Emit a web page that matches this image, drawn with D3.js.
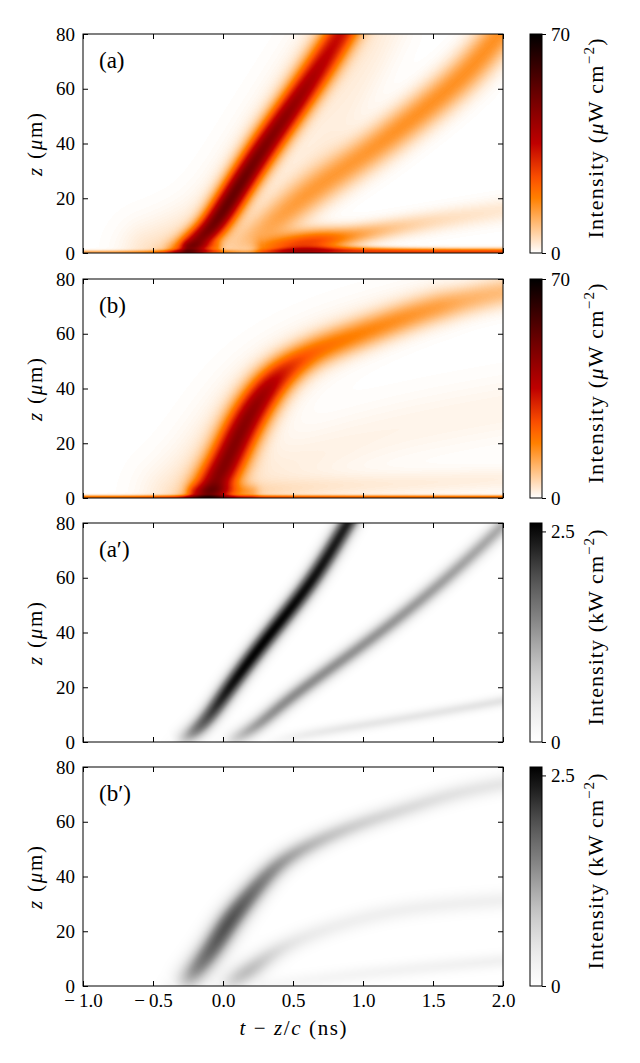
<!DOCTYPE html>
<meta charset="utf-8">
<style>
  body { margin: 0; background: #fff; }
  .tick line { stroke: #000; stroke-width: 1; }
</style>
<svg width="640" height="1063" font-family="Liberation Serif"></svg>
<script src="https://cdn.jsdelivr.net/npm/d3@7"></script>
<script>

var tTicks = [-1, -0.5, 0, 0.5, 1, 1.5, 2];
var zTicks = [0, 20, 40, 60, 80];
var panelNames = ["(a)", "(b)", "(a\u2032)", "(b\u2032)"];
var panelMax = [70, 70, 2.6, 2.6];
var barTicks = [[0, 70], [0, 70], [0, 2.5], [0, 2.5]];
var barUnits = ["\u03bcW", "\u03bcW", "kW", "kW"];

// bright tracks, rows of [t (ns), z (um), intensity, spread (ns)]
// panel (a), uW cm^-2
var aMain = [[-0.40, -2, 8, 0.06], [-0.30, 0.5, 22, 0.06], [-0.22, 3, 40, 0.06], [-0.10, 8, 45, 0.065],
  [0.00, 15, 48, 0.07], [0.12, 25, 48, 0.07], [0.31, 40, 43, 0.075], [0.52, 55, 40, 0.075],
  [0.72, 70, 33, 0.08], [0.84, 80, 30, 0.08], [0.90, 85, 30, 0.08]];
var aHalo = [[-0.5, 0, 4, 0.15], [-0.25, 5, 4, 0.15], [0.0, 15, 3, 0.15], [0.3, 40, 3, 0.15], [0.8, 80, 3, 0.15]];
var aSecond = [[-0.05, -2, 3, 0.08], [0.1, 2, 6, 0.08], [0.28, 8, 9, 0.085], [0.45, 15, 11, 0.09],
  [0.7, 25, 13, 0.09], [1.03, 36.5, 14, 0.09], [1.25, 45, 15, 0.09], [1.5, 55, 15, 0.09],
  [1.75, 66, 15, 0.09], [1.96, 79, 15, 0.09], [2.02, 83, 15, 0.09]];
var aFan = [[0.3, 5, 2, 0.1], [0.55, 25, 2, 0.12], [0.85, 50, 2, 0.12], [1.15, 82, 2, 0.12]];
var aThird = [[0.3, 1.5, 12, 0.05], [0.5, 3, 26, 0.06], [0.7, 4.5, 26, 0.06], [0.9, 6, 14, 0.05],
  [1.2, 9, 7, 0.05], [1.6, 12.5, 4, 0.055], [2.05, 16, 3, 0.06]];
var aBlob = [[-0.25, 2, 10, 0.03], [-0.05, 2, 8, 0.03]];
var aBottom = [[-1.05, 0.3, 12, 0.01], [-0.45, 0.3, 10, 0.01], [-0.3, 0.5, 18, 0.012], [-0.05, 0.5, 14, 0.012],
  [0.15, 0.3, 3, 0.01], [0.35, 0.4, 12, 0.014], [0.55, 0.6, 28, 0.022], [0.9, 0.6, 27, 0.022],
  [1.3, 0.5, 26, 0.016], [2.05, 0.5, 25, 0.016]];

// panel (b), uW cm^-2
var bMain = [[-0.15, -2, 25, 0.09], [-0.1, 2, 38, 0.09], [-0.03, 8, 42, 0.09], [0.043, 15, 42, 0.09],
  [0.16, 28, 42, 0.09], [0.31, 40, 38, 0.085], [0.45, 47, 27, 0.08], [0.6, 52, 20, 0.075],
  [0.74, 55.5, 17, 0.075], [1.04, 61, 15, 0.075], [1.33, 66.5, 13, 0.075], [1.62, 71, 11, 0.075],
  [1.97, 75, 9, 0.075], [2.1, 76, 9, 0.075]];
var bHalo = [[-0.3, 0, 4, 0.18], [-0.1, 10, 4, 0.18], [0.15, 30, 3.5, 0.18], [0.35, 45, 3, 0.16],
  [0.8, 60, 2, 0.14], [1.5, 72, 1.5, 0.12]];
var bBlob = [[-0.2, 2, 10, 0.04], [0.0, 2.5, 12, 0.04], [0.2, 2, 6, 0.04]];
var bSecond = [[0.15, 3, 2.5, 0.12], [0.5, 12, 2, 0.15], [1.0, 22, 1.5, 0.15], [1.5, 28, 1.5, 0.15], [2.05, 33, 1.5, 0.15]];
var bThird = [[0.2, 2, 3, 0.05], [0.7, 4, 3, 0.06], [1.2, 5, 2.5, 0.06], [2.05, 7, 2, 0.06]];
var bBottom = [[-1.05, 0.3, 20, 0.01], [2.05, 0.3, 20, 0.01]];

// panel (a'), kW cm^-2
var apMain = [[-0.35, -1, 0.1, 0.05], [-0.22, 2.9, 1.5, 0.05], [-0.1, 9, 2.0, 0.05], [0.043, 19.8, 2.5, 0.05],
  [0.28, 36, 2.6, 0.05], [0.57, 54, 2.5, 0.05], [0.74, 67, 2.4, 0.05], [0.89, 80, 2.3, 0.05], [0.95, 85, 2.3, 0.05]];
var apSecond = [[0.0, -1, 0.1, 0.045], [0.1, 1.5, 0.9, 0.045], [0.25, 6, 1.3, 0.045], [0.45, 15, 1.4, 0.045],
  [0.745, 26, 1.35, 0.045], [1.18, 42, 1.3, 0.045], [1.62, 60.5, 1.2, 0.045], [1.97, 77.5, 1.1, 0.045], [2.05, 82, 1.1, 0.045]];
var apThird = [[0.35, 0, 0.1, 0.03], [0.6, 3, 0.45, 0.03], [1.33, 8.8, 0.45, 0.03], [2.05, 15.5, 0.5, 0.03]];

// panel (b'), kW cm^-2
var bpMain = [[-0.32, -1, 0.3, 0.07], [-0.22, 4, 1.4, 0.07], [-0.07, 14, 1.8, 0.07], [0.04, 23.5, 2.0, 0.07],
  [0.19, 33, 1.7, 0.065], [0.34, 42, 1.4, 0.06], [0.51, 49, 1.1, 0.055], [0.89, 58, 0.75, 0.05],
  [1.33, 65, 0.6, 0.05], [1.62, 70, 0.5, 0.05], [1.97, 73.7, 0.45, 0.05], [2.1, 74.5, 0.45, 0.05]];
var bpSecond = [[0.0, -1, 0.3, 0.06], [0.1, 3, 0.9, 0.06], [0.22, 6.6, 1.0, 0.06], [0.45, 16, 0.35, 0.05],
  [1.04, 26, 0.3, 0.05], [1.5, 29.5, 0.3, 0.05], [2.05, 31.5, 0.3, 0.05]];
var bpThird = [[0.3, 0, 0.15, 0.04], [1.04, 5, 0.25, 0.04], [2.05, 9.5, 0.28, 0.04]];

var panelRidges = [
  [aMain, aHalo, aSecond, aFan, aThird, aBlob, aBottom],
  [bMain, bHalo, bBlob, bSecond, bThird, bBottom],
  [apMain, apSecond, apThird],
  [bpMain, bpSecond, bpThird]
];

var svg = d3.select("svg");
var left = 83, plotW = 420, plotH = 219;
var tops = [34, 279, 523, 767];
var barX = 530, barW = 12;

var x = d3.scaleLinear().domain([-1, 2]).range([left, left + plotW]);

// matplotlib gist_heat, reversed
function heatR(f) {
  var v = 1 - f;
  return d3.rgb(255 * Math.min(1, 1.5 * v), 255 * Math.max(0, 2 * v - 1), 255 * Math.max(0, 4 * v - 3)).toString();
}

// smooth the read points into a dense track
function smooth(rows, n) {
  var cols = [0, 1, 2, 3].map(function(c) { return d3.interpolateBasis(rows.map(function(d) { return d[c]; })); });
  return d3.range(n + 1).map(function(i) { return cols.map(function(f) { return f(i / n); }); });
}

function ridgeValue(p, px, py) {
  var best = Infinity, bi = 0, bw = 1;
  for (var s = 0; s < p.length - 1; s++) {
    var a = p[s], b = p[s + 1];
    var dx = b.px - a.px, dy = b.py - a.py;
    var L = dx * dx + dy * dy;
    var u = L > 0 ? ((px - a.px) * dx + (py - a.py) * dy) / L : 0;
    u = Math.max(0, Math.min(1, u));
    var cx = a.px + u * dx - px, cy = a.py + u * dy - py;
    var d2 = cx * cx + cy * cy;
    if (d2 < best) { best = d2; bi = a.I + u * (b.I - a.I); bw = a.w + u * (b.w - a.w); }
  }
  return bi * Math.exp(-best / (2 * bw * bw));
}

panelRidges.forEach(function(ridges, k) {
  var top = tops[k];
  var y = d3.scaleLinear().domain([0, 80]).range([top + plotH, top]);
  var interp = k < 2 ? heatR : d3.interpolateGreys;
  var lut = d3.range(256).map(function(i) { return d3.rgb(interp(i / 255)); });
  var nsPx = x(1) - x(0);

  var paths = ridges.map(function(r) {
    return smooth(r, r.length > 2 ? 60 : 1).map(function(d) {
      return { px: x(d[0]) - left, py: y(d[1]) - top, I: d[2], w: d[3] * nsPx };
    });
  });

  var canvas = document.createElement("canvas");
  canvas.width = plotW; canvas.height = plotH;
  var ctx = canvas.getContext("2d");
  var img = ctx.createImageData(plotW, plotH);
  for (var j = 0; j < plotH; j++) {
    for (var i = 0; i < plotW; i++) {
      var v = 0;
      for (var r = 0; r < paths.length; r++) v += ridgeValue(paths[r], i + 0.5, j + 0.5);
      var c = lut[Math.round(255 * Math.min(1, v / panelMax[k]))];
      var o = 4 * (j * plotW + i);
      img.data[o] = c.r; img.data[o + 1] = c.g; img.data[o + 2] = c.b; img.data[o + 3] = 255;
    }
  }
  ctx.putImageData(img, 0, 0);

  var g = svg.append("g");
  g.append("image")
      .attr("x", x(-1)).attr("y", y(80))
      .attr("width", plotW).attr("height", plotH)
      .attr("preserveAspectRatio", "none")
      .attr("href", canvas.toDataURL());

  // axes, ticks pointing inward on all four sides
  g.append("g").attr("transform", "translate(0," + y(0) + ")")
      .call(d3.axisBottom(x).tickValues(tTicks).tickSize(-5).tickPadding(8)
        .tickFormat(k === 3 ? function(d) { return d3.format(".1f")(d).replace("\u2212", "\u2212\u2009"); } : ""));
  g.append("g").attr("transform", "translate(0," + y(80) + ")")
      .call(d3.axisTop(x).tickValues(tTicks).tickSize(-5).tickFormat(""));
  g.append("g").attr("transform", "translate(" + x(-1) + ",0)")
      .call(d3.axisLeft(y).tickValues(zTicks).tickSize(-5).tickPadding(8));
  g.append("g").attr("transform", "translate(" + x(2) + ",0)")
      .call(d3.axisRight(y).tickValues(zTicks).tickSize(-5).tickFormat(""));
  g.selectAll(".domain").remove();

  g.append("rect")
      .attr("x", x(-1)).attr("y", y(80))
      .attr("width", plotW).attr("height", plotH)
      .attr("fill", "none").attr("stroke", "#000").attr("stroke-width", 1);

  g.append("text")
      .attr("x", x(-1) + 16).attr("y", y(80) + 34)
      .attr("font-size", 23)
      .text(panelNames[k]);

  var yl = g.append("text")
      .attr("transform", "translate(42," + (top + plotH / 2 + 1) + ") rotate(-90)")
      .attr("text-anchor", "middle")
      .attr("font-size", 21)
      .attr("textLength", 63).attr("lengthAdjust", "spacing");
  yl.append("tspan").style("font-style", "italic").text("z");
  yl.append("tspan").text(" (");
  yl.append("tspan").style("font-style", "italic").text("\u03bc");
  yl.append("tspan").text("m)");

  // colour bar
  var grad = svg.append("defs").append("linearGradient")
      .attr("id", "grad" + k).attr("x1", 0).attr("y1", 1).attr("x2", 0).attr("y2", 0);
  d3.range(0, 1.0001, 0.05).forEach(function(f) {
    grad.append("stop").attr("offset", f).attr("stop-color", interp(f));
  });
  var cb = d3.scaleLinear().domain([0, panelMax[k]]).range([top + plotH, top]);
  g.append("rect")
      .attr("x", barX).attr("y", cb(panelMax[k]))
      .attr("width", barW).attr("height", plotH)
      .attr("fill", "url(#grad" + k + ")")
      .attr("stroke", "#000").attr("stroke-width", 1);
  g.append("g").attr("transform", "translate(" + (barX + barW) + ",0)")
      .call(d3.axisRight(cb).tickValues(barTicks[k]).tickSize(4).tickPadding(5)
        .tickFormat(d3.format("~g")))
    .select(".domain").remove();

  var cl = g.append("text")
      .attr("transform", "translate(603," + (top + plotH / 2 - 5) + ") rotate(-90)")
      .attr("text-anchor", "middle")
      .attr("font-size", 22)
      .attr("textLength", k < 2 ? 200 : 196).attr("lengthAdjust", "spacing");
  cl.append("tspan").text("Intensity (");
  if (barUnits[k].charAt(0) === "\u03bc") {
    cl.append("tspan").style("font-style", "italic").text("\u03bc");
    cl.append("tspan").text("W cm");
  } else {
    cl.append("tspan").text("kW cm");
  }
  cl.append("tspan").attr("dy", -9).attr("font-size", 15).text("\u22122");
  cl.append("tspan").attr("dy", 9).text(")");
});

var xl = svg.append("text")
    .attr("x", x(0.5)).attr("y", 1035)
    .attr("text-anchor", "middle")
    .attr("font-size", 21)
    .attr("textLength", 107).attr("lengthAdjust", "spacing");
xl.append("tspan").style("font-style", "italic").text("t");
xl.append("tspan").text(" \u2212 ");
xl.append("tspan").style("font-style", "italic").text("z");
xl.append("tspan").text("/");
xl.append("tspan").style("font-style", "italic").text("c");
xl.append("tspan").text(" (ns)");

svg.selectAll("g").attr("font-family", "Liberation Serif");
svg.selectAll("text").attr("font-family", "Liberation Serif").attr("fill", "#000");
svg.selectAll(".tick text").attr("font-size", 19);

</script>
